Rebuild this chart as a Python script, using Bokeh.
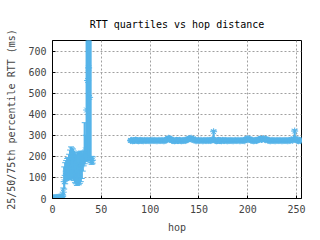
from bokeh.plotting import figure
from bokeh.models import Range1d, FixedTicker, ColumnDataSource
from bokeh.embed import file_html
from bokeh.resources import INLINE

# ---- data: hop distance, RTT quartiles (ms) ----
early_hops = list(range(0, 42))
early_med = [2, 3, 4, 4, 5, 5, 6, 6, 7, 8, 10, 30, 80, 110, 130, 140, 150, 160, 175, 190,
             200, 185, 160, 140, 120, 110, 130, 115, 140, 150, 165, 175, 185, 200, 230, 420,
             560, 620, 480, 190, 180, 182]
early_lo = [0, 0, 0, 1, 1, 1, 2, 2, 2, 3, 4, 12, 45, 70, 85, 90, 92, 90, 88, 92,
            100, 95, 85, 75, 70, 62, 68, 65, 72, 80, 95, 130, 155, 165, 175, 180,
            185, 182, 178, 170, 162, 165]
early_hi = [6, 8, 9, 10, 10, 11, 12, 12, 13, 14, 20, 50, 150, 170, 180, 190, 195, 210, 230, 245,
            240, 235, 225, 215, 205, 210, 218, 170, 222, 225, 220, 215, 225, 360, 300, 1000,
            1000, 1000, 1000, 900, 200, 198]

flat_hops = list(range(80, 256))
flat_med = [
    275, 276, 274, 275, 275, 277, 276, 275, 274, 275, 276, 275, 275, 274, 276, 275,
    275, 276, 275, 275, 274, 275, 277, 275, 276, 275, 275, 274, 275, 276, 275, 275,
    276, 275, 274, 275, 276, 279, 283, 286, 284, 281, 276, 275, 275, 274, 275, 276,
    275, 275, 276, 275, 274, 275, 275, 276, 275, 277, 279, 282, 285, 284, 286, 280,
    283, 278, 276, 274, 275, 276, 275, 275, 277, 275, 274, 275, 276, 275, 275, 276,
    275, 276, 275, 277, 279, 317, 277, 275, 274, 275, 276, 275, 275, 274, 276, 275,
    275, 276, 275, 274, 275, 275, 276, 275, 275, 274, 275, 276, 275, 275, 277, 275,
    274, 275, 276, 275, 275, 274, 279, 283, 284, 282, 281, 277, 276, 275, 274, 275,
    276, 275, 277, 279, 281, 283, 280, 282, 284, 281, 279, 282, 278, 276, 275, 274,
    275, 276, 275, 275, 274, 275, 276, 275, 275, 276, 275, 274, 275, 275, 276, 275,
    275, 274, 276, 275, 277, 279, 276, 281, 320, 284, 277, 275, 274, 276, 275, 277]
flat_lo = [
    269, 270, 268, 269, 269, 271, 270, 269, 268, 269, 270, 269, 269, 268, 270, 269,
    269, 270, 269, 269, 268, 269, 271, 269, 270, 269, 269, 268, 269, 270, 269, 269,
    270, 269, 268, 269, 270, 272, 275, 277, 276, 274, 270, 269, 269, 268, 269, 270,
    269, 269, 270, 269, 268, 269, 269, 270, 269, 271, 272, 275, 277, 276, 278, 273,
    276, 272, 270, 268, 269, 270, 269, 269, 271, 269, 268, 269, 270, 269, 269, 270,
    269, 270, 269, 271, 272, 278, 271, 269, 268, 269, 270, 269, 269, 268, 270, 269,
    269, 270, 269, 268, 269, 269, 270, 269, 269, 268, 269, 270, 269, 269, 271, 269,
    268, 269, 270, 269, 269, 268, 272, 275, 276, 275, 274, 271, 270, 269, 268, 269,
    270, 269, 271, 272, 274, 275, 273, 275, 276, 274, 272, 275, 271, 270, 269, 268,
    269, 270, 269, 269, 268, 269, 270, 269, 269, 270, 269, 268, 269, 269, 270, 269,
    269, 268, 270, 269, 271, 272, 270, 274, 279, 277, 271, 269, 268, 270, 269, 271]
flat_hi = [
    281, 282, 280, 281, 281, 283, 282, 281, 280, 281, 282, 281, 281, 280, 282, 281,
    281, 282, 281, 281, 280, 281, 283, 281, 282, 281, 281, 280, 281, 282, 281, 281,
    282, 281, 280, 281, 282, 286, 290, 294, 291, 288, 282, 281, 281, 280, 281, 282,
    281, 281, 282, 281, 280, 281, 281, 282, 281, 283, 286, 289, 292, 291, 293, 287,
    290, 284, 282, 280, 281, 282, 281, 281, 283, 281, 280, 281, 282, 281, 281, 282,
    281, 282, 281, 283, 286, 324, 283, 281, 280, 281, 282, 281, 281, 280, 282, 281,
    281, 282, 281, 280, 281, 281, 282, 281, 281, 280, 281, 282, 281, 281, 283, 281,
    280, 281, 282, 281, 281, 280, 286, 290, 291, 289, 288, 283, 282, 281, 280, 281,
    282, 281, 283, 286, 288, 290, 287, 289, 291, 288, 286, 289, 285, 282, 281, 280,
    281, 282, 281, 281, 280, 281, 282, 281, 281, 282, 281, 280, 281, 281, 282, 281,
    281, 280, 282, 281, 283, 286, 282, 288, 326, 291, 283, 281, 280, 282, 281, 283]

x_ticks = [0, 50, 100, 150, 200, 250]
y_ticks = [0, 100, 200, 300, 400, 500, 600, 700]

COLOR = "#56b4e9"
FONT = "DejaVu Sans Mono"

src = ColumnDataSource(dict(
    hop=early_hops + flat_hops,
    med=early_med + flat_med,
    lo=early_lo + flat_lo,
    hi=early_hi + flat_hi,
))

p = figure(width=320, height=240, output_backend="svg", toolbar_location=None,
           x_range=Range1d(0, 255), y_range=Range1d(0, 750),
           min_border_left=52, min_border_right=19, min_border_top=40, min_border_bottom=42,
           title="RTT quartiles vs hop distance")
p.background_fill_color = "white"
p.border_fill_color = "white"
p.outline_line_color = "black"
p.outline_line_width = 1

p.title.text_font = FONT
p.title.text_font_size = "10px"
p.title.text_font_style = "normal"
p.title.align = "center"
p.title.text_color = "black"
p.title.standoff = 22

for ax, ticks in ((p.xaxis[0], x_ticks), (p.yaxis[0], y_ticks)):
    ax.ticker = FixedTicker(ticks=ticks)
    ax.major_label_text_font = FONT
    ax.major_label_text_font_size = "10px"
    ax.axis_label_text_font = FONT
    ax.axis_label_text_font_size = "10px"
    ax.axis_label_text_font_style = "normal"
    ax.major_tick_in = 3
    ax.major_tick_out = 0
    ax.minor_tick_line_color = None
    ax.axis_line_color = "black"
    ax.major_tick_line_color = "black"
    ax.major_label_standoff = 6

p.xaxis[0].axis_label = "hop"
p.yaxis[0].axis_label = "25/50/75th percentile RTT (ms)"
p.xaxis[0].axis_label_standoff = 6
p.yaxis[0].axis_label_standoff = 8

for g, ticks in ((p.xgrid[0], x_ticks), (p.ygrid[0], y_ticks)):
    g.ticker = FixedTicker(ticks=ticks)
    g.grid_line_color = "#a0a0a0"
    g.grid_line_dash = "2 2"
    g.grid_line_width = 1

p.segment(x0="hop", y0="lo", x1="hop", y1="hi", source=src, line_color=COLOR, line_width=2.2)
p.scatter(x="hop", y="lo", source=src, marker="dash", size=6, line_color=COLOR, line_width=1)
p.scatter(x="hop", y="hi", source=src, marker="dash", size=6, line_color=COLOR, line_width=1)
p.scatter(x="hop", y="med", source=src, marker="asterisk", size=7, line_color=COLOR, line_width=1)

open("out.html", "w").write(file_html(p, INLINE))
